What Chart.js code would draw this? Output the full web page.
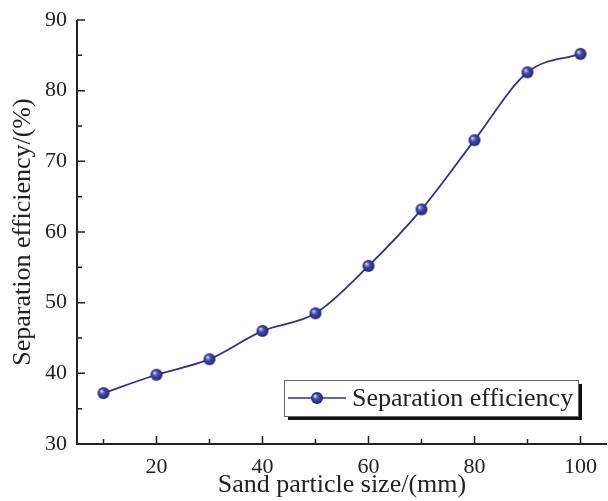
<!DOCTYPE html>
<html>
<head>
<meta charset="utf-8">
<script src="https://cdn.jsdelivr.net/npm/chart.js@4"></script>
<style>
  html, body { margin: 0; padding: 0; background: #fff; overflow: hidden; }
  canvas { display: block; }
</style>
</head>
<body>
<canvas id="chart" width="608" height="501"></canvas>
<script>
// Datos
const particleSize = [10, 20, 30, 40, 50, 60, 70, 80, 90, 100];
const efficiency = [37.2, 39.8, 42.0, 46.0, 48.5, 55.2, 63.2, 73.0, 82.6, 85.2];
const xTicks = [20, 40, 60, 80, 100];
const yTicks = [30, 40, 50, 60, 70, 80, 90];

const lineColor = '#2e3192';
const serif = '"Liberation Serif", "DejaVu Serif", serif';

// Marcador en forma de esfera
function makeSphere(r) {
    const c = document.createElement('canvas');
    c.width = c.height = r * 2 + 2;
    const g = c.getContext('2d');
    const cx = r + 1, cy = r + 1;
    const grad = g.createRadialGradient(cx - r * 0.35, cy - r * 0.35, r * 0.1, cx, cy, r);
    grad.addColorStop(0, '#c8cbf0');
    grad.addColorStop(0.35, '#4a4fb0');
    grad.addColorStop(1, '#1e2170');
    g.fillStyle = grad;
    g.beginPath();
    g.arc(cx, cy, r, 0, Math.PI * 2);
    g.fill();
    return c;
}
const sphere = makeSphere(6);

// Ejes con marcas hacia adentro y leyenda con sombra
const axesPlugin = {
    id: 'axesPlugin',
    afterDraw(chart) {
        const { ctx, chartArea: a, scales } = chart;
        const xs = scales.x, ys = scales.y;
        ctx.save();
        ctx.strokeStyle = '#222';
        ctx.lineWidth = 2;
        ctx.beginPath();
        ctx.moveTo(a.left, a.top);
        ctx.lineTo(a.left, a.bottom);
        ctx.lineTo(a.right, a.bottom);
        ctx.stroke();

        ctx.lineWidth = 1.5;
        ctx.beginPath();
        for (let v = 10; v <= 100; v += 10) {
            const px = xs.getPixelForValue(v);
            const len = v % 20 === 0 ? 8 : 5;
            ctx.moveTo(px, a.bottom);
            ctx.lineTo(px, a.bottom - len);
        }
        for (let v = 35; v <= 90; v += 5) {
            const py = ys.getPixelForValue(v);
            const len = v % 10 === 0 ? 8 : 5;
            ctx.moveTo(a.left, py);
            ctx.lineTo(a.left + len, py);
        }
        ctx.stroke();

        // Leyenda
        const lx = 284, ly = 380, lw = 294, lh = 36;
        ctx.fillStyle = '#111';
        ctx.fillRect(lx + 4, ly + 4, lw, lh);
        ctx.fillStyle = '#fff';
        ctx.fillRect(lx, ly, lw, lh);
        ctx.strokeStyle = '#666';
        ctx.lineWidth = 1;
        ctx.strokeRect(lx + 0.5, ly + 0.5, lw, lh);
        ctx.strokeStyle = lineColor;
        ctx.lineWidth = 1.5;
        ctx.beginPath();
        ctx.moveTo(lx + 4, ly + 18);
        ctx.lineTo(lx + 62, ly + 18);
        ctx.stroke();
        ctx.drawImage(sphere, lx + 33 - sphere.width / 2, ly + 18 - sphere.height / 2);
        ctx.fillStyle = '#222';
        ctx.font = '26px ' + serif;
        ctx.textBaseline = 'middle';
        ctx.fillText(chart.data.datasets[0].label, lx + 68, ly + 19);
        ctx.restore();
    }
};

function zeroPadding(scale) {
    scale.paddingLeft = 0;
    scale.paddingRight = 0;
    scale.paddingTop = 0;
    scale.paddingBottom = 0;
}

const ctx = document.getElementById('chart').getContext('2d');
const chart = new Chart(ctx, {
    type: 'line',
    data: {
        datasets: [{
            label: 'Separation efficiency',
            data: particleSize.map((x, i) => ({ x: x, y: efficiency[i] })),
            borderColor: lineColor,
            borderWidth: 1.8,
            cubicInterpolationMode: 'monotone',
            pointStyle: sphere,
            pointRadius: 6,
            fill: false
        }]
    },
    options: {
        responsive: false,
        animation: false,
        layout: { autoPadding: false, padding: { top: 20, right: 1, left: 0, bottom: 0 } },
        plugins: {
            legend: { display: false },
            tooltip: { enabled: false }
        },
        scales: {
            x: {
                type: 'linear',
                min: 5,
                max: 105,
                afterBuildTicks(scale) {
                    scale.ticks = xTicks.map(v => ({ value: v }));
                },
                afterFit(scale) {
                    scale.height = 57;
                    zeroPadding(scale);
                },
                grid: { display: false, drawTicks: false },
                border: { display: false },
                ticks: {
                    color: '#222',
                    padding: 10,
                    font: { family: serif, size: 22 }
                },
                title: {
                    display: true,
                    text: 'Sand particle size/(mm)',
                    color: '#222',
                    padding: { top: -6, bottom: 0 },
                    font: { family: serif, size: 26 }
                }
            },
            y: {
                min: 30,
                max: 90,
                afterBuildTicks(scale) {
                    scale.ticks = yTicks.map(v => ({ value: v }));
                },
                afterFit(scale) {
                    scale.width = 77;
                    zeroPadding(scale);
                },
                grid: { display: false, drawTicks: false },
                border: { display: false },
                ticks: {
                    color: '#222',
                    padding: 10,
                    font: { family: serif, size: 22 }
                },
                title: {
                    display: true,
                    text: 'Separation efficiency/(%)',
                    color: '#222',
                    padding: { top: 8, bottom: 0 },
                    font: { family: serif, size: 26 }
                }
            }
        }
    },
    plugins: [axesPlugin]
});
</script>
</body>
</html>
